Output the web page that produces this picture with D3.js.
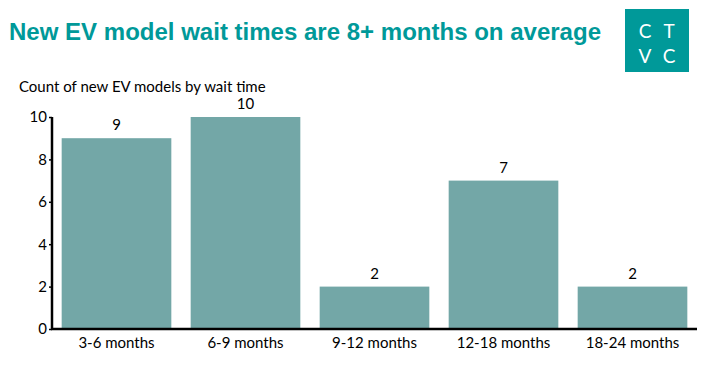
<!DOCTYPE html>
<html>
<head>
<meta charset="utf-8">
<script src="https://cdn.jsdelivr.net/npm/d3@7"></script>
<style>
  body { margin: 0; background: #fff; }
  svg { display: block; }
  .tick text { font-family: Lato, "Open Sans", sans-serif; font-size: 15px; fill: #000; }
</style>
</head>
<body>
<svg id="chart" width="710" height="365"></svg>
<script>
// data
var categories = ["3-6 months", "6-9 months", "9-12 months", "12-18 months", "18-24 months"];
var counts = [9, 10, 2, 7, 2];
var yTicks = [0, 2, 4, 6, 8, 10];

var svg = d3.select("#chart");
var teal = "#009999";

// title
svg.append("text")
  .attr("x", 9).attr("y", 40)
  .style("font-family", "'Liberation Sans', Arial, sans-serif")
  .style("font-weight", "bold")
  .style("font-size", "24px")
  .attr("fill", teal)
  .attr("textLength", 592)
  .attr("lengthAdjust", "spacingAndGlyphs")
  .text("New EV model wait times are 8+ months on average");

// logo
var logo = svg.append("g");
logo.append("rect").attr("x", 625).attr("y", 9).attr("width", 64).attr("height", 63).attr("fill", teal);
[["C", 645, 38], ["T", 669, 38], ["V", 645, 63], ["C", 669, 63]].forEach(function(l)
{
  logo.append("text").attr("x", l[1]).attr("y", l[2])
    .attr("text-anchor", "middle")
    .style("font-family", "Lato, 'Open Sans', sans-serif")
    .style("font-size", "19px")
    .attr("fill", "#fff")
    .text(l[0]);
});

// subtitle
svg.append("text")
  .attr("x", 19).attr("y", 92)
  .style("font-family", "Lato, 'Open Sans', sans-serif")
  .style("font-size", "15px")
  .attr("fill", "#000")
  .text("Count of new EV models by wait time");

var x = d3.scaleBand().domain(categories).range([52, 697]).paddingInner(0.15).paddingOuter(0.075);
var y = d3.scaleLinear().domain([0, 10]).range([329, 117]);

svg.selectAll("rect.bar").data(counts).enter().append("rect")
  .attr("class", "bar")
  .attr("x", function(d, i) { return x(categories[i]); })
  .attr("y", function(d) { return y(d); })
  .attr("width", x.bandwidth())
  .attr("height", function(d) { return y(0) - y(d); })
  .attr("fill", "#73a7a7");

svg.selectAll("text.val").data(counts).enter().append("text")
  .attr("class", "val")
  .attr("x", function(d, i) { return x(categories[i]) + x.bandwidth() / 2; })
  .attr("y", function(d) { return y(d) - 8; })
  .attr("text-anchor", "middle")
  .style("font-family", "Lato, 'Open Sans', sans-serif")
  .style("font-size", "15px")
  .text(function(d) { return d; });

var yAxis = svg.append("g").attr("transform", "translate(52,0)")
  .call(d3.axisLeft(y).tickValues(yTicks).tickSize(3).tickPadding(2));
yAxis.select(".domain").attr("stroke", "#000").attr("stroke-width", 2.5).attr("d", "M0,329V117");
yAxis.selectAll(".tick line").attr("stroke-width", 1.5);

var xAxis = svg.append("g").attr("transform", "translate(0,329)")
  .call(d3.axisBottom(x).tickSize(0).tickPadding(8));
xAxis.select(".domain").attr("stroke", "#000").attr("stroke-width", 2.5).attr("d", "M51,0H697");
</script>
</body>
</html>
